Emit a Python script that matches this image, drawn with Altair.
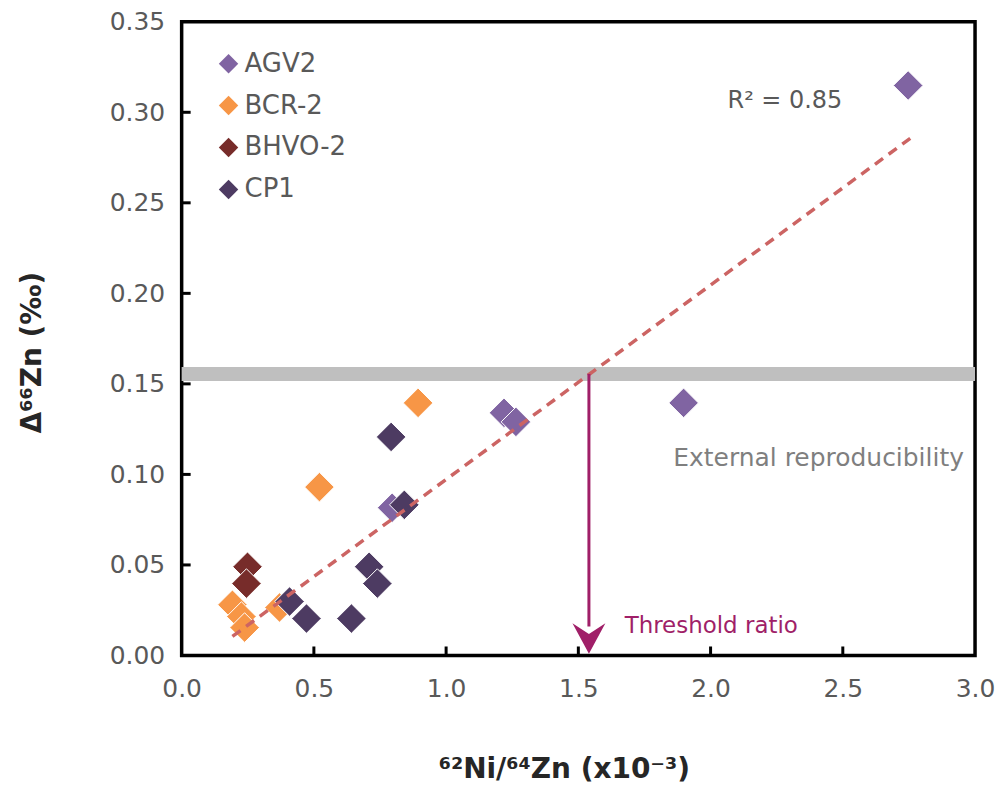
import altair as alt
import pandas as pd

FONT = "DejaVu Sans"

series_names = ["AGV2", "BCR-2", "BHVO-2", "CP1"]
series_colors = ["#8064A2", "#F79646", "#772C2A", "#4D3B62"]

agv2_x = [2.747, 1.898, 1.219, 1.264, 0.796]
agv2_y = [0.3148, 0.1395, 0.134, 0.129, 0.0816]
bcr2_x = [0.894, 0.521, 0.192, 0.226, 0.238, 0.370]
bcr2_y = [0.1395, 0.093, 0.028, 0.0215, 0.0154, 0.0265]
bhvo2_x = [0.249, 0.245]
bhvo2_y = [0.049, 0.0397]
cp1_x = [0.792, 0.842, 0.408, 0.472, 0.642, 0.709, 0.740]
cp1_y = [0.1207, 0.0832, 0.0298, 0.0204, 0.0204, 0.049, 0.0397]

trend_x = [0.192, 2.755]
trend_y = [0.0105, 0.2856]

band_x = [0.0, 3.0]
band_y = [0.1516, 0.1593]

threshold_x = [1.54]
threshold_y = [0.1555, 0.006]

x_ticks = [0.0, 0.5, 1.0, 1.5, 2.0, 2.5, 3.0]
y_ticks = [0.0, 0.05, 0.10, 0.15, 0.20, 0.25, 0.30, 0.35]
x_inner_ticks = [0.5, 1.0, 1.5, 2.0, 2.5]
y_inner_ticks = [0.05, 0.10, 0.15, 0.20, 0.25, 0.30]

r2_label = ["R\u00b2 = 0.85"]
r2_pos = [2.064, 0.3065]
ext_label = ["External reproducibility"]
ext_pos = [2.958, 0.109]
thr_label = ["Threshold ratio"]
thr_pos = [1.675, 0.016]

W, H = 795, 635

rows = []
for name, xs, ys in zip(series_names, [agv2_x, bcr2_x, bhvo2_x, cp1_x],
                        [agv2_y, bcr2_y, bhvo2_y, cp1_y]):
    for a, b in zip(xs, ys):
        rows.append({"series": name, "x": a, "y": b})
pts = pd.DataFrame(rows)
pts["idx"] = range(len(pts))

xscale = alt.Scale(domain=[0, 3], nice=False, zero=False)
yscale = alt.Scale(domain=[0, 0.35], nice=False, zero=False)

xaxis = alt.Axis(values=x_ticks, format=".1f", title="\u2076\u00b2Ni/\u2076\u2074Zn (x10\u207b\u00b3)",
                 labelFlush=False, labelPadding=21, titleX=383, titleY=114,
                 titleBaseline="middle", titleAlign="center")
yaxis = alt.Axis(values=y_ticks, format=".2f", title="\u0394\u2076\u2076Zn (\u2030)",
                 labelFlush=False, labelPadding=17, titleX=-149, titleY=331,
                 titleBaseline="middle", titleAlign="center", titleAngle=270)

band = alt.Chart(pd.DataFrame({"x": [band_x[0]], "x2": [band_x[1]],
                               "y": [band_y[0]], "y2": [band_y[1]]})).mark_rect(
    color="#BFBFBF").encode(
    x=alt.X("x:Q", scale=xscale, axis=xaxis), x2="x2:Q",
    y=alt.Y("y:Q", scale=yscale, axis=yaxis), y2="y2:Q")

points = alt.Chart(pts).mark_point(shape="diamond", filled=True, size=880, opacity=1,
                                   stroke="white", strokeWidth=1).encode(
    x=alt.X("x:Q", scale=xscale),
    y=alt.Y("y:Q", scale=yscale),
    color=alt.Color("series:N", scale=alt.Scale(domain=series_names, range=series_colors),
                    legend=alt.Legend(orient="none", legendX=34, legendY=29, title=None,
                                      symbolType="diamond", symbolSize=380,
                                      symbolStrokeWidth=0, symbolOpacity=1,
                                      labelFont=FONT, labelFontSize=26, labelColor="#595959",
                                      rowPadding=16, labelOffset=3, padding=0)),
    order=alt.Order("idx:Q"))

trend = alt.Chart(pd.DataFrame({"x": trend_x, "y": trend_y})).mark_line(
    color="#CC6463", strokeWidth=3.5, strokeDash=[10, 7]).encode(
    x=alt.X("x:Q", scale=xscale), y=alt.Y("y:Q", scale=yscale))

arrow_line = alt.Chart(pd.DataFrame({"x": threshold_x, "y": [threshold_y[0]],
                                     "y2": [threshold_y[1] + 0.01]})).mark_rule(
    color="#A01F68", strokeWidth=3).encode(
    x=alt.X("x:Q", scale=xscale), y=alt.Y("y:Q", scale=yscale), y2="y2:Q")

arrow_head = alt.Chart(pd.DataFrame({"x": threshold_x, "y": [threshold_y[1] - 0.005]})).mark_point(
    shape="M0,0L-1,-1.85L0,-1.2L1,-1.85Z", filled=True, size=1089, opacity=1,
    color="#A01F68", strokeWidth=0).encode(
    x=alt.X("x:Q", scale=xscale), y=alt.Y("y:Q", scale=yscale))

r2 = alt.Chart(pd.DataFrame({"t": r2_label, "x": [r2_pos[0]], "y": [r2_pos[1]]})).mark_text(
    align="left", baseline="middle", font=FONT, fontSize=24, color="#595959").encode(
    x=alt.X("x:Q", scale=xscale), y=alt.Y("y:Q", scale=yscale), text="t:N")

ext = alt.Chart(pd.DataFrame({"t": ext_label, "x": [ext_pos[0]], "y": [ext_pos[1]]})).mark_text(
    align="right", baseline="middle", font=FONT, fontSize=25, color="#7F7F7F").encode(
    x=alt.X("x:Q", scale=xscale), y=alt.Y("y:Q", scale=yscale), text="t:N")

thr = alt.Chart(pd.DataFrame({"t": thr_label, "x": [thr_pos[0]], "y": [thr_pos[1]]})).mark_text(
    align="left", baseline="middle", font=FONT, fontSize=23, color="#A01F68").encode(
    x=alt.X("x:Q", scale=xscale), y=alt.Y("y:Q", scale=yscale), text="t:N")

xt = alt.Chart(pd.DataFrame({"x": x_inner_ticks})).mark_rule(
    color="black", strokeWidth=3).encode(
    x=alt.X("x:Q", scale=xscale), y=alt.value(H), y2=alt.value(H - 9))

yt = alt.Chart(pd.DataFrame({"y": y_inner_ticks})).mark_rule(
    color="black", strokeWidth=3).encode(
    y=alt.Y("y:Q", scale=yscale), x=alt.value(0), x2=alt.value(9))

chart = alt.layer(band, points, trend, arrow_line, arrow_head, r2, ext, thr, xt, yt).properties(
    width=W, height=H,
    padding={"left": 174, "top": 13, "right": 20, "bottom": 128},
    autosize=alt.AutoSizeParams(type="none"),
).configure_view(stroke="black", strokeWidth=3.5).configure_axis(
    grid=False, domain=False, ticks=False,
    labelFont=FONT, labelFontSize=25, labelColor="#595959",
    titleFont=FONT, titleFontSize=28, titleFontWeight="bold", titleColor="#262626",
)

chart.save("out.html", embed_options={"renderer": "svg", "actions": False})
